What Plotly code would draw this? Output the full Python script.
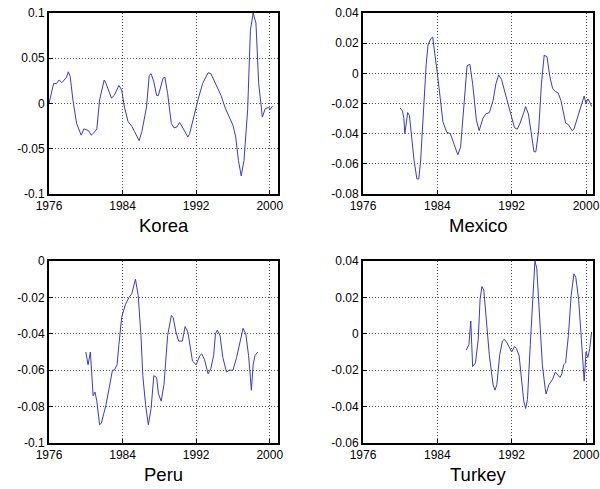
import plotly.graph_objects as go

# values (year, value)
korea_year = [1976.0, 1976.5, 1976.8, 1977.1, 1977.4, 1977.7, 1977.9, 1978.1, 1978.3, 1978.6,
              1979.0, 1979.5, 1979.8, 1980.3, 1980.6, 1981.0, 1981.2, 1981.5, 1982.0, 1982.2,
              1982.8, 1983.1, 1983.6, 1983.9, 1984.2, 1984.6, 1985.0, 1985.3, 1985.8, 1986.1,
              1986.6, 1986.9, 1987.1, 1987.4, 1987.7, 1987.9, 1988.4, 1988.6, 1988.9, 1989.3,
              1989.6, 1989.9, 1990.2, 1990.5, 1991.1, 1991.3, 1991.8, 1992.2, 1992.7, 1993.3,
              1993.6, 1994.2, 1994.7, 1995.2, 1995.6, 1996.0, 1996.3, 1996.6, 1996.9, 1997.2,
              1997.6, 1997.9, 1998.2, 1998.5, 1998.8, 1999.2, 1999.5, 1999.9, 2000.0, 2000.3]
korea_val = [0.0, 0.022, 0.022, 0.026, 0.023, 0.027, 0.029, 0.035, 0.030, 0.004,
             -0.022, -0.035, -0.028, -0.030, -0.035, -0.031, -0.028, 0.004, 0.026, 0.022,
             0.006, 0.009, 0.020, 0.015, -0.004, -0.020, -0.025, -0.031, -0.041, -0.031,
             -0.004, 0.031, 0.033, 0.024, 0.009, 0.009, 0.028, 0.029, 0.011, -0.022,
             -0.027, -0.026, -0.021, -0.026, -0.037, -0.033, -0.011, 0.004, 0.022, 0.034,
             0.033, 0.020, 0.009, -0.006, -0.015, -0.024, -0.037, -0.063, -0.080, -0.063,
             -0.007, 0.081, 0.100, 0.089, 0.022, -0.015, -0.006, -0.004, -0.007, -0.003]

mexico_year = [1980.0, 1980.25, 1980.4, 1980.5, 1980.7, 1980.8, 1981.0, 1981.2, 1981.5, 1981.8,
               1982.0, 1982.2, 1982.5, 1982.8, 1983.0, 1983.3, 1983.5, 1983.7, 1984.0, 1984.3,
               1984.6, 1985.0, 1985.4, 1985.8, 1986.2, 1986.5, 1986.9, 1987.2, 1987.5, 1987.8,
               1988.2, 1988.5, 1988.9, 1989.2, 1989.6, 1990.0, 1990.3, 1990.6, 1990.9, 1991.4,
               1991.8, 1992.3, 1992.6, 1992.9, 1993.3, 1993.5, 1993.8, 1994.2, 1994.4, 1994.6,
               1994.9, 1995.2, 1995.5, 1995.8, 1996.1, 1996.4, 1996.7, 1997.0, 1997.3, 1997.6,
               1997.8, 1998.1, 1998.5, 1998.7, 1999.0, 1999.4, 1999.7, 1999.8, 2000.0, 2000.2,
               2000.4, 2000.6]
mexico_val = [-0.023, -0.025, -0.030, -0.040, -0.031, -0.026, -0.028, -0.040, -0.058, -0.070,
              -0.070, -0.058, -0.025, 0.006, 0.019, 0.023, 0.024, 0.015, 0.0, -0.016,
              -0.032, -0.039, -0.040, -0.047, -0.054, -0.049, -0.018, 0.005, 0.006, -0.007,
              -0.031, -0.038, -0.030, -0.027, -0.026, -0.018, -0.007, -0.001, -0.004, -0.015,
              -0.025, -0.036, -0.037, -0.033, -0.026, -0.022, -0.027, -0.044, -0.052, -0.052,
              -0.038, -0.007, 0.012, 0.011, -0.002, -0.010, -0.012, -0.013, -0.018, -0.027,
              -0.033, -0.034, -0.038, -0.037, -0.031, -0.022, -0.016, -0.015, -0.020, -0.017,
              -0.019, -0.022]

peru_year = [1980.0, 1980.25, 1980.5, 1980.7, 1980.8, 1981.0, 1981.2, 1981.5, 1981.7, 1982.2,
             1982.6, 1982.9, 1983.1, 1983.4, 1983.6, 1983.9, 1984.3, 1984.7, 1985.0, 1985.3,
             1985.4, 1985.7, 1986.0, 1986.2, 1986.5, 1986.8, 1987.1, 1987.4, 1987.7, 1987.9,
             1988.2, 1988.5, 1988.9, 1989.3, 1989.5, 1989.8, 1990.1, 1990.5, 1990.8, 1991.1,
             1991.3, 1991.6, 1992.0, 1992.4, 1992.6, 1992.9, 1993.3, 1993.6, 1993.9, 1994.1,
             1994.3, 1994.6, 1994.9, 1995.3, 1995.6, 1996.0, 1996.4, 1996.6, 1996.9, 1997.1,
             1997.4, 1997.7, 1997.9, 1998.0, 1998.2, 1998.4, 1998.7]
peru_val = [-0.050, -0.057, -0.050, -0.068, -0.074, -0.072, -0.077, -0.090, -0.089, -0.079,
            -0.068, -0.060, -0.060, -0.057, -0.046, -0.031, -0.024, -0.020, -0.018, -0.013,
            -0.010, -0.019, -0.041, -0.063, -0.079, -0.090, -0.081, -0.063, -0.064, -0.073,
            -0.077, -0.068, -0.041, -0.030, -0.031, -0.039, -0.044, -0.044, -0.036, -0.039,
            -0.045, -0.055, -0.057, -0.052, -0.051, -0.054, -0.062, -0.059, -0.052, -0.040,
            -0.038, -0.041, -0.053, -0.061, -0.060, -0.060, -0.053, -0.048, -0.041, -0.037,
            -0.040, -0.052, -0.064, -0.071, -0.057, -0.052, -0.050]

turkey_year = [1987.1, 1987.4, 1987.5, 1987.6, 1987.7, 1987.8, 1988.1, 1988.4, 1988.6, 1988.8,
               1989.0, 1989.3, 1989.6, 1990.0, 1990.2, 1990.4, 1990.7, 1991.0, 1991.2, 1991.5,
               1991.8, 1992.0, 1992.3, 1992.5, 1992.8, 1993.1, 1993.3, 1993.5, 1993.7, 1994.0,
               1994.3, 1994.5, 1994.7, 1995.0, 1995.3, 1995.6, 1995.7, 1996.0, 1996.4, 1996.7,
               1996.9, 1997.2, 1997.4, 1997.6, 1997.8, 1998.1, 1998.4, 1998.7, 1998.9, 1999.2,
               1999.5, 1999.8, 2000.0, 2000.2, 2000.4, 2000.6]
turkey_val = [-0.009, -0.006, 0.001, 0.007, -0.006, -0.018, -0.016, -0.003, 0.019, 0.026,
              0.024, 0.008, -0.012, -0.028, -0.031, -0.028, -0.012, -0.004, -0.003, -0.005,
              -0.008, -0.010, -0.007, -0.008, -0.012, -0.025, -0.037, -0.041, -0.036, -0.006,
              0.025, 0.040, 0.036, 0.008, -0.017, -0.030, -0.033, -0.028, -0.025, -0.021,
              -0.022, -0.024, -0.022, -0.017, -0.016, -0.001, 0.021, 0.033, 0.031, 0.019,
              -0.003, -0.026, -0.010, -0.013, -0.008, 0.001]

countries = ["Korea", "Mexico", "Peru", "Turkey"]
year_ticks = [1976, 1984, 1992, 2000]
korea_ticks = [-0.1, -0.05, 0, 0.05, 0.1]
korea_labels = ["-0.1", "-0.05", "0", "0.05", "0.1"]
mexico_ticks = [-0.08, -0.06, -0.04, -0.02, 0, 0.02, 0.04]
mexico_labels = ["-0.08", "-0.06", "-0.04", "-0.02", "0", "0.02", "0.04"]
peru_ticks = [-0.1, -0.08, -0.06, -0.04, -0.02, 0]
peru_labels = ["-0.1", "-0.08", "-0.06", "-0.04", "-0.02", "0"]
turkey_ticks = [-0.06, -0.04, -0.02, 0, 0.02, 0.04]
turkey_labels = ["-0.06", "-0.04", "-0.02", "0", "0.02", "0.04"]

panels = [
    (korea_year, korea_val, korea_ticks, korea_labels, [-0.1, 0.1], 2000.9),
    (mexico_year, mexico_val, mexico_ticks, mexico_labels, [-0.08, 0.04], 2000.75),
    (peru_year, peru_val, peru_ticks, peru_labels, [-0.1, 0], 2000.9),
    (turkey_year, turkey_val, turkey_ticks, turkey_labels, [-0.06, 0.04], 2000.75),
]

W, H = 600, 489
# plot boxes in pixels: left, right, top, bottom
boxes = [(49, 278, 13, 194), (363, 593, 13, 194), (49, 278, 261, 443), (363, 593, 261, 443)]

fig = go.Figure()
font = "Liberation Sans, Arial, sans-serif"

for i, (xs, ys, yt, yl, yr, xmax) in enumerate(panels):
    n = "" if i == 0 else str(i + 1)
    l, r, t, b = boxes[i]
    fig.add_trace(go.Scatter(x=xs, y=ys, mode="lines", xaxis="x" + n, yaxis="y" + n,
                             line=dict(color="#3a3ac8", width=1), showlegend=False))
    ax = dict(showline=True, linecolor="black", linewidth=2, mirror=True,
              showgrid=True, gridcolor="#555555", griddash="1px,2px", gridwidth=1,
              zeroline=False, ticks="inside", ticklen=4, tickcolor="black",
              automargin=False,
              tickfont=dict(family=font, size=12, color="black"))
    fig.layout["xaxis" + n] = dict(ax, domain=[l / W, r / W], anchor="y" + n,
                                   range=[1976, xmax], tickvals=year_ticks)
    fig.layout["yaxis" + n] = dict(ax, domain=[1 - b / H, 1 - t / H], anchor="x" + n,
                                   range=yr, tickvals=yt, ticktext=yl)
    fig.add_annotation(text=countries[i], x=(l + r) / 2 / W, y=1 - (b + 31) / H,
                       xref="paper", yref="paper", showarrow=False,
                       xanchor="center", yanchor="middle",
                       font=dict(family=font, size=18.5, color="black"))

fig.update_layout(width=W, height=H, margin=dict(l=0, r=0, t=0, b=0),
                  plot_bgcolor="white", paper_bgcolor="white")

# drop the browser's default 8px body margin so the figure fills the window
fig.write_html("out.html", config={"displayModeBar": False},
               post_script="document.body.style.margin='0';")
